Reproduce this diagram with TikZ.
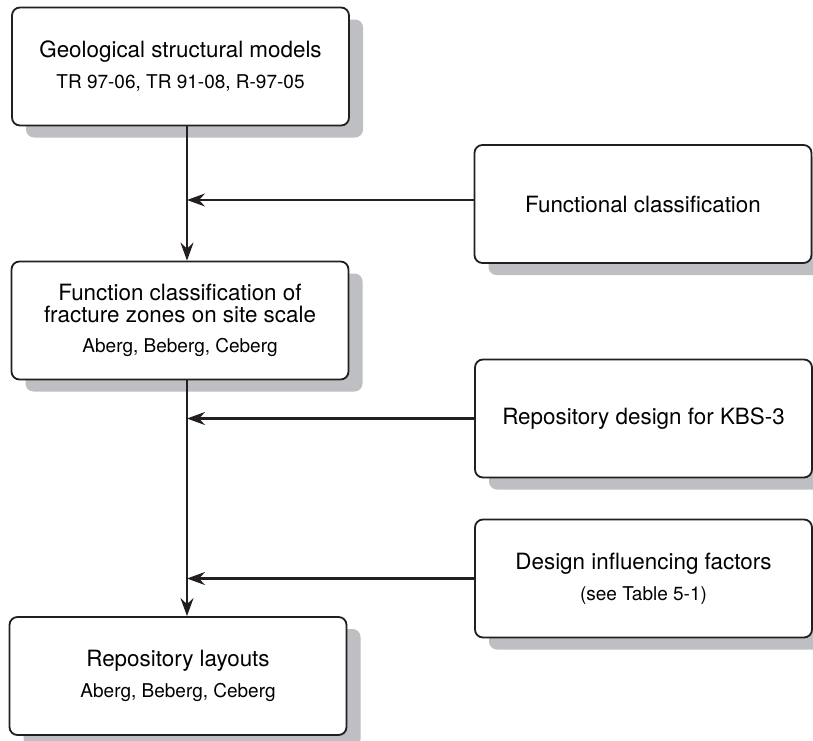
\documentclass[tikz,border=0pt]{standalone}
\usepackage{fontspec}
\setmainfont{TeX Gyre Heros}
\usetikzlibrary{arrows.meta,shadows}

\definecolor{linegray}{RGB}{35,31,32}
\definecolor{shadegray}{RGB}{190,191,195}

\newcommand{\bigtxt}{\fontsize{11.2}{11}\selectfont}
\newcommand{\smalltxt}{\fontsize{9.5}{11}\selectfont}

\begin{document}
\begin{tikzpicture}[x=0.5pt,y=-0.5pt,
  box/.style={draw=linegray, line width=0.9pt, rounded corners=4pt, fill=white,
    minimum width=168.5pt, minimum height=59pt, align=center, font=\bigtxt,
    drop shadow={shadow xshift=7pt, shadow yshift=-6pt, fill=shadegray, opacity=1}},
  flow/.style={draw=linegray, line width=1.1pt, -{Stealth[length=9pt,width=6.5pt,inset=3pt]}}]

\useasboundingbox (0,0) rectangle (813,740);

% left column
\node[box] (geo) at (180.5,66.5) {Geological structural models\\[4.5pt]\smalltxt TR 97-06, TR 91-08, R-97-05};
\node[box] (fcl) at (180,320.5) {Function classification of\\fracture zones on site scale\\[4pt]\smalltxt Aberg, Beberg, Ceberg};
\node[box] (lay) at (178,676) {Repository layouts\\[4.5pt]\smalltxt Aberg, Beberg, Ceberg};

% right column
\node[box] (func) at (643,204) {Functional classification};
\node[box] (rd) at (643.5,418.5) {Repository design for KBS-3};
\node[box] (dif) at (643.5,578.5) {Design influencing factors\\[4.5pt]\smalltxt (see Table 5-1)};

\coordinate (trunk) at (187,0);

\draw[flow] (geo.south -| trunk) -- (fcl.north -| trunk);
\draw[flow] (fcl.south -| trunk) -- (lay.north -| trunk);

\draw[flow] ([yshift=2pt]func.west) -- ([yshift=2pt]func.west -| trunk);
\draw[flow] (rd.west) -- (rd.west -| trunk);
\draw[flow] (dif.west) -- (dif.west -| trunk);

\end{tikzpicture}
\end{document}
